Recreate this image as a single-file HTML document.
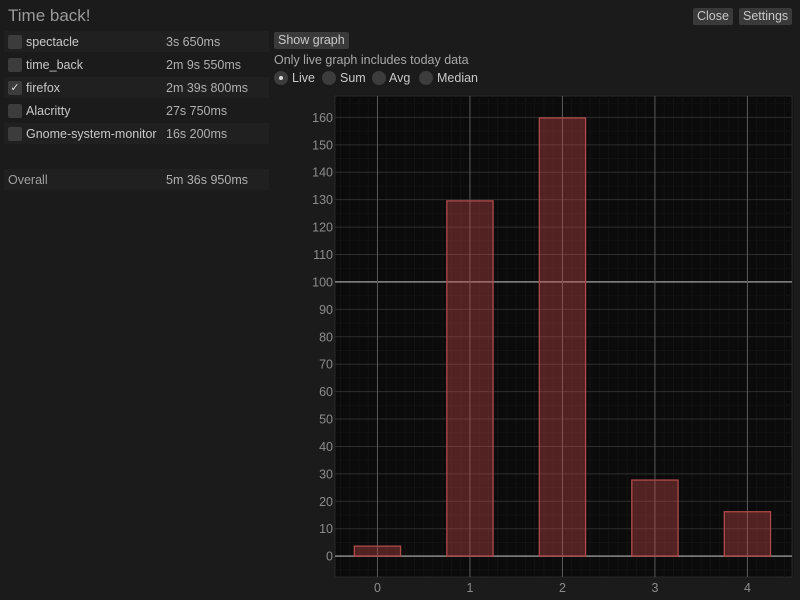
<!DOCTYPE html>
<html><head><meta charset="utf-8"><style>
body{margin:0;width:800px;height:600px;background:#1b1b1b;font-family:"Liberation Sans","DejaVu Sans",sans-serif;color:#b4b4b4;font-size:12.5px;position:relative;overflow:hidden}
.abs{position:absolute}
.row{position:absolute;left:4px;width:265px;height:21px;background:#202020}
.row .cb{position:absolute;left:4px;top:4px;width:14px;height:14px;background:#3c3c3c;border-radius:2px;color:#ddd;font-size:11px;line-height:14px;text-align:center}
.row .nm{position:absolute;left:22px;top:4px;color:#c8c8c8}
.row .tm{position:absolute;left:162px;top:4px;color:#b0b0b0}
.btn{position:absolute;background:#3a3a3a;border-radius:2px;color:#c8c8c8;height:17px;line-height:17px;padding:0 4px}
.radio{position:absolute;top:71px;width:14px;height:14px;border-radius:7px;background:#3c3c3c}
</style></head><body>
<div class="abs" style="left:8px;top:6px;font-size:17px;color:#9a9a9a">Time back!</div>
<div class="btn" style="left:693px;top:8px">Close</div>
<div class="btn" style="left:739px;top:8px">Settings</div>

<div class="row" style="top:31px"><div class="cb"></div><span class="nm">spectacle</span><span class="tm">3s 650ms</span></div>
<div class="row" style="top:54px;background:#1b1b1b"><div class="cb"></div><span class="nm">time_back</span><span class="tm">2m 9s 550ms</span></div>
<div class="row" style="top:77px"><div class="cb">✓</div><span class="nm">firefox</span><span class="tm">2m 39s 800ms</span></div>
<div class="row" style="top:100px;background:#1b1b1b"><div class="cb"></div><span class="nm">Alacritty</span><span class="tm">27s 750ms</span></div>
<div class="row" style="top:123px"><div class="cb"></div><span class="nm">Gnome-system-monitor</span><span class="tm">16s 200ms</span></div>
<div class="row" style="top:169px"><span class="nm" style="left:4px;color:#a0a0a0">Overall</span><span class="tm">5m 36s 950ms</span></div>

<div class="btn" style="left:274px;top:32px">Show graph</div>
<div class="abs" style="left:274px;top:53px;color:#a8a8a8">Only live graph includes today data</div>
<div class="radio" style="left:274px"><div style="position:absolute;left:5px;top:5px;width:4px;height:4px;border-radius:2px;background:#ddd"></div></div>
<div class="abs" style="left:292px;top:71px;color:#c8c8c8">Live</div>
<div class="radio" style="left:322px"></div>
<div class="abs" style="left:340px;top:71px;color:#c8c8c8">Sum</div>
<div class="radio" style="left:372px"></div>
<div class="abs" style="left:389px;top:71px;color:#c8c8c8">Avg</div>
<div class="radio" style="left:419px"></div>
<div class="abs" style="left:437px;top:71px;color:#c8c8c8">Median</div>

<svg id="chart" class="abs" style="left:0;top:0" width="800" height="600"></svg>
<script>
const categories=[0,1,2,3,4];
const values=[3.65,129.55,159.8,27.75,16.2];
const yTicks=[0,10,20,30,40,50,60,70,80,90,100,110,120,130,140,150,160];
const xTicks=["0","1","2","3","4"];
const L=335,R=792,T=96,B=577;
const xMin=-0.459,xMax=4.482,yMin=-7.6,yMax=167.8;
const X=v=>L+(v-xMin)/(xMax-xMin)*(R-L);
const Y=v=>B-(v-yMin)/(yMax-yMin)*(B-T);
const svg=document.getElementById('chart');
const NS='http://www.w3.org/2000/svg';
function mk(t,a){const e=document.createElementNS(NS,t);for(const k in a)e.setAttribute(k,a[k]);svg.appendChild(e);return e;}
const bg=mk('rect',{x:L,y:T,width:R-L,height:B-T,fill:'#0b0b0b',stroke:'#2a2a2a'});


for(let v=-0.4;v<=4.5;v+=0.1){const e=mk('line',{x1:X(v),x2:X(v),y1:T,y2:B,stroke:'#131313','stroke-width':1});

}
for(let v=-5;v<=165;v+=5){if(v%10===0)continue;const e=mk('line',{x1:L,x2:R,y1:Y(v),y2:Y(v),stroke:'#121212'});

}
yTicks.forEach(v=>{const major=v===0||v===100;
const l=mk('line',{x1:L,x2:R,y1:Y(v),y2:Y(v),stroke:major?'#8a8a8a':'#2e2e2e','stroke-width':major?1.5:1});


const t=mk('text',{x:L-2,y:Y(v)+4.5,'text-anchor':'end',fill:'#8c8c8c','font-size':'12.5'});t.textContent=v;

});
xTicks.forEach((s,i)=>{const l=mk('line',{x1:X(i),x2:X(i),y1:T,y2:B,stroke:'#5a5a5a'});


const t=mk('text',{x:X(i),y:B+15,'text-anchor':'middle',fill:'#8c8c8c','font-size':'12.5'});t.textContent=s;

});
categories.forEach((c,i)=>{const x0=X(c-0.25),x1=X(c+0.25),y0=Y(0),y1=Y(values[i]);
const r=mk('rect',{x:x0,y:y1,width:x1-x0,height:y0-y1,fill:'rgba(200,70,70,0.38)',stroke:'#b04a4a','stroke-width':1.3});

});
</script>
</body></html>
